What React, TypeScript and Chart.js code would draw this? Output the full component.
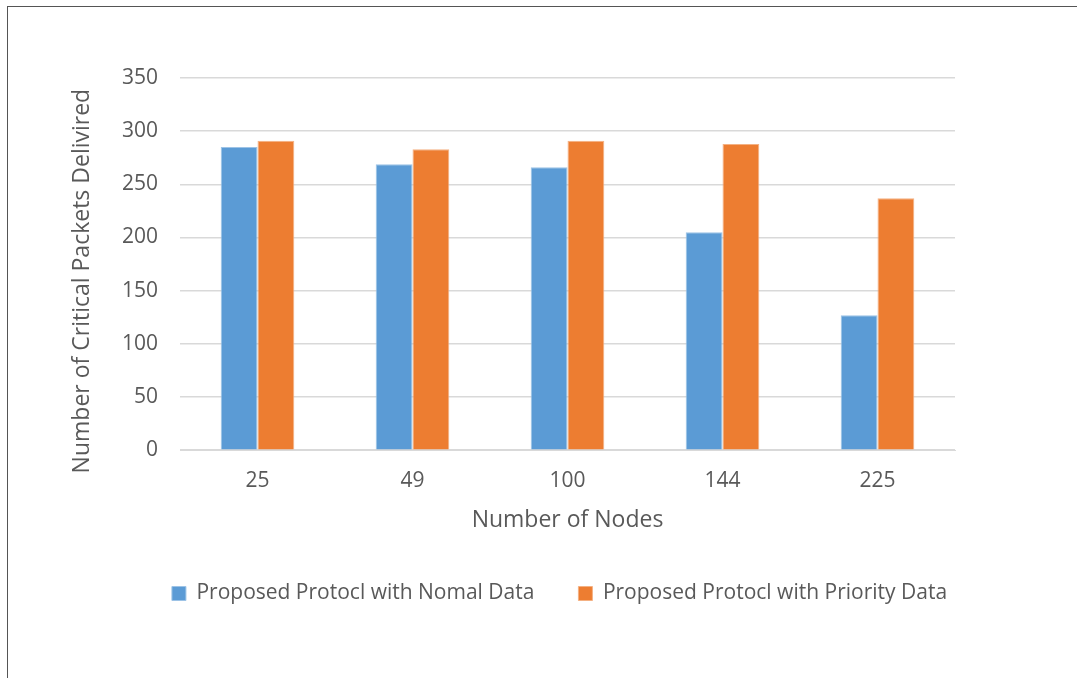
import React, { useEffect, useRef } from "react";
import { Chart, registerables } from "chart.js";

Chart.register(...registerables);

const categories = ["25", "49", "100", "144", "225"];
const normalData = [285, 269, 266, 205, 127];
const priorityData = [291, 283, 291, 288, 237];
const seriesNames = ["Proposed Protocl with Nomal Data", "Proposed Protocl with Priority Data"];
const yTitle = "Number of Critical Packets Delivired";
const xTitle = "Number of Nodes";

const FONT = "'Open Sans', 'Noto Sans', sans-serif";
const TXT = "#595959";

const legendShift = {
  id: "legendShift",
  afterLayout(chart: any) {
    const l = chart.legend;
    if (l) {
      l.left += 51;
      l.right += 51;
    }
  },
};

const yTitlePlugin = {
  id: "yTitlePlugin",
  afterDraw(chart: any) {
    const ctx = chart.ctx;
    const area = chart.chartArea;
    ctx.save();
    ctx.translate(area.left - 98, (area.top + area.bottom) / 2 + 17);
    ctx.rotate(-Math.PI / 2);
    ctx.fillStyle = TXT;
    ctx.font = `23px ${FONT}`;
    ctx.textAlign = "center";
    ctx.textBaseline = "middle";
    ctx.fillText(yTitle, 0, 0);
    ctx.restore();
  },
};

export default function App() {
  const ref = useRef<HTMLCanvasElement | null>(null);
  useEffect(() => {
    if (!ref.current) return;
    const chart = new Chart(ref.current, {
      type: "bar",
      plugins: [legendShift, yTitlePlugin],
      data: {
        labels: categories,
        datasets: [
          {
            label: seriesNames[0],
            data: normalData,
            backgroundColor: "#5B9BD5",
            borderColor: "#9DC3E6",
            borderWidth: 1,
            categoryPercentage: 0.475,
            barPercentage: 1,
          },
          {
            label: seriesNames[1],
            data: priorityData,
            backgroundColor: "#ED7D31",
            borderColor: "#F4B183",
            borderWidth: 1,
            categoryPercentage: 0.475,
            barPercentage: 1,
          },
        ],
      },
      options: {
        animation: false,
        responsive: false,
        maintainAspectRatio: false,
        layout: { padding: { left: 62, right: 122, top: 78, bottom: 64 } },
        plugins: {
          tooltip: { enabled: false },
          legend: {
            position: "bottom",
            labels: {
              color: TXT,
              font: { family: FONT, size: 21 },
              boxWidth: 14,
              boxHeight: 14,
              padding: 44,
            },
          },
        },
        scales: {
          x: {
            grid: { display: false, drawTicks: false },
            border: { display: true, color: "#D9D9D9", width: 1 },
            ticks: { color: TXT, font: { family: FONT, size: 21 }, padding: 18 },
            title: {
              display: true,
              text: xTitle,
              color: TXT,
              font: { family: FONT, size: 23 },
              padding: { top: -5, bottom: 5 },
            },
          },
          y: {
            min: 0,
            max: 350,
            grid: { color: "#D9D9D9", lineWidth: 1.5, drawTicks: false },
            border: { display: false },
            ticks: { stepSize: 50, color: TXT, font: { family: FONT, size: 21 }, padding: 22 },
            title: { display: false, text: yTitle },
            afterFit: (scale: any) => {
              scale.width = 118;
            },
          },
        },
      },
    });
    return () => chart.destroy();
  }, []);
  return (
    <div style={{ position: "absolute", left: 0, top: 0, width: 1077, height: 678, background: "#fff", overflow: "hidden" }}>
      <div style={{ position: "absolute", left: 7, top: 6, width: 1080, height: 700, borderLeft: "1.5px solid #555", borderTop: "1.5px solid #555" }} />
      <canvas ref={ref} width={1077} height={678} style={{ position: "absolute", left: 0, top: 0 }} />
    </div>
  );
}
